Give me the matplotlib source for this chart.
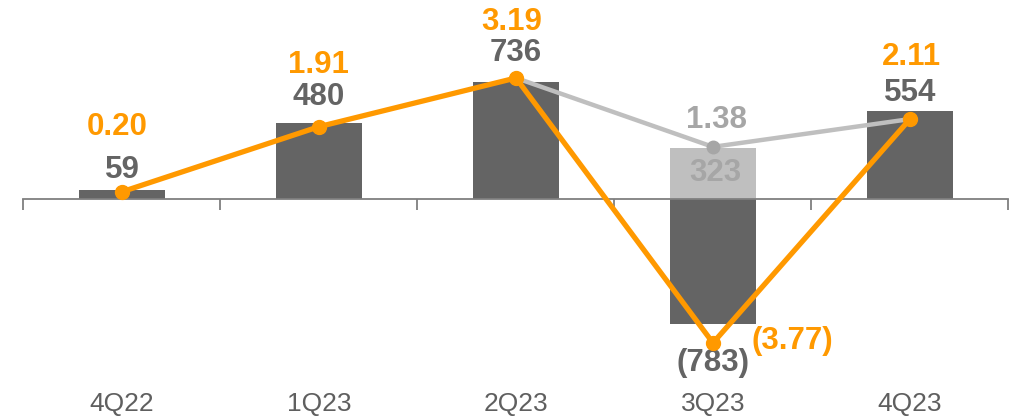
import numpy as np
import matplotlib
matplotlib.use("Agg")
import matplotlib.pyplot as plt

plt.rcParams['font.family'] = ['Liberation Sans', 'DejaVu Sans']

quarters = ['4Q22', '1Q23', '2Q23', '3Q23', '4Q23']
net_income = [59, 480, 736, -783, 554]
eps = [0.20, 1.91, 3.19, -3.77, 2.11]
adj_income_3q = 323
adj_eps = [3.19, 1.38, 2.11]          # 2Q23 .. 4Q23 adjusted path

DARK = '#646464'
LIGHT = '#BFBFBF'
MID = '#A6A6A6'
ORANGE = '#FF9900'

x = np.arange(len(quarters))

fig = plt.figure(figsize=(10.14, 4.17), dpi=100)
ax = fig.add_axes([0, 0, 1, 1])
ax.set_xlim(-0.619, 4.528)
ax.set_ylim(-1371, 1252)

bars = ax.bar(x, net_income, width=0.44, color=DARK, zorder=2)
ax.bar(x[3], adj_income_3q, width=0.44, color=LIGHT, zorder=2)

# axis line with ticks at the category boundaries
for s in ['top', 'right', 'left']:
    ax.spines[s].set_visible(False)
ax.spines['bottom'].set_position(('data', 0))
ax.spines['bottom'].set_bounds(-0.5, 4.5)
ax.spines['bottom'].set_color('#7F7F7F')
ax.spines['bottom'].set_linewidth(1.3)
ax.set_xticks(np.arange(-0.5, 5, 1))
ax.tick_params(axis='x', length=8, width=1.3, color='#7F7F7F', labelbottom=False)
ax.set_yticks([])

for xi, q in zip(x, quarters):
    ax.text(xi, 0.0144, q, transform=ax.get_xaxis_transform(), ha='center',
            va='baseline', fontsize=19, color='#5F5F5F')

# net income labels (offsets in pixels from bar end)
bar_off = [(0, 20), (0, 26), (0, 29), (0, -39), (0, 18)]
for xi, v, (dx, dy) in zip(x, net_income, bar_off):
    txt = f'({abs(v)})' if v < 0 else f'{v}'
    ax.annotate(txt, (xi, v), xytext=(dx, dy), textcoords='offset pixels',
                ha='center', va='center', fontsize=22.5, fontweight='bold', color=DARK)
ax.annotate(f'{adj_income_3q}', (x[3], adj_income_3q), xytext=(2, -25),
            textcoords='offset pixels', ha='center', va='center',
            fontsize=22.5, fontweight='bold', color=MID)

# EPS on a twin axis sharing the zero line
ax2 = ax.twinx()
ax2.set_ylim(-5.716, 5.238)
ax2.axis('off')
ax2.plot(x[2:], adj_eps, color=LIGHT, lw=3.2, zorder=2, solid_capstyle='round')
ax2.plot(x[3], adj_eps[1], 'o', color=MID, ms=9, zorder=3)
ax2.plot(x, eps, color=ORANGE, lw=3.8, marker='o', ms=10, zorder=4)

eps_off = [(-5, 65), (-1, 62), (-4, 56), (79, 2), (1, 62)]
for xi, v, (dx, dy) in zip(x, eps, eps_off):
    txt = f'({abs(v):.2f})' if v < 0 else f'{v:.2f}'
    ax2.annotate(txt, (xi, v), xytext=(dx, dy), textcoords='offset pixels',
                 ha='center', va='center', fontsize=22.5, fontweight='bold', color=ORANGE)
ax2.annotate(f'{adj_eps[1]:.2f}', (x[3], adj_eps[1]), xytext=(4, 27),
             textcoords='offset pixels', ha='center', va='center',
             fontsize=22.5, fontweight='bold', color=MID)

fig.savefig('out.png', dpi=100)
